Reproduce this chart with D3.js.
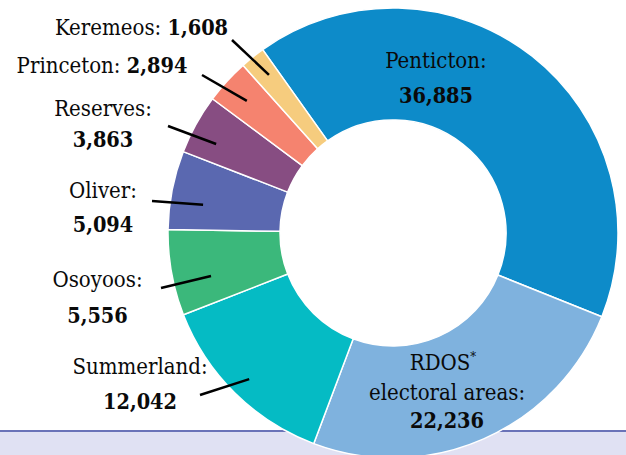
<!DOCTYPE html>
<html>
<head>
<meta charset="utf-8">
<script src="https://cdn.jsdelivr.net/npm/d3@7"></script>
<style>
  html, body { margin: 0; padding: 0; background: #fff; }
  svg { display: block; }
  .lbl { font-family: "DejaVu Serif Condensed", "DejaVu Serif", serif; font-stretch: condensed; font-size: 22px; fill: #0a0a0a; }
  .num { font-weight: bold; font-size: 21.5px; }
</style>
</head>
<body>
<svg id="chart" width="626" height="455"></svg>
<script>
// ---- data ----
const categories = ["Penticton", "RDOS electoral areas", "Summerland", "Osoyoos", "Oliver", "Reserves", "Princeton", "Keremeos"];
const values = [36885, 22236, 12042, 5556, 5094, 3863, 2894, 1608];
const colors = ["#0d8bc9", "#7fb2de", "#05bbc4", "#3bb87b", "#5a68b0", "#874d82", "#f5836f", "#f6cc7e"];

// ---- layout ----
const W = 626, H = 455;
const cx = 393, cy = 233, R = 225, r0 = 113;
const startDeg = -35.4;
const fmt = d3.format(",");

const svg = d3.select("#chart");

// bottom band
svg.append("rect").attr("x", 0).attr("y", 431).attr("width", W).attr("height", H - 431).attr("fill", "#e0e1f3");
svg.append("line").attr("x1", 0).attr("x2", W).attr("y1", 431).attr("y2", 431)
  .attr("stroke", "#6a73b8").attr("stroke-width", 2);

const data = categories.map((c, i) => ({ name: c, value: values[i], color: colors[i] }));
const start = startDeg * Math.PI / 180;
const pie = d3.pie().value(d => d.value).sort(null).startAngle(start).endAngle(start + 2 * Math.PI);
const arcs = pie(data);
const arc = d3.arc().innerRadius(r0).outerRadius(R);

const g = svg.append("g").attr("transform", `translate(${cx},${cy})`);
g.selectAll("path").data(arcs).join("path")
  .attr("d", arc)
  .attr("fill", d => d.data.color)
  .attr("stroke", "#fff")
  .attr("stroke-width", 1.5)
  .attr("stroke-linejoin", "round");

// label layout: label centre x, baselines, leader outer end, leader inner (radius, angle nudge in degrees)
const labelLayout = {
  "Penticton":  { x: 436, y: [68, 103] },
  "RDOS electoral areas": { x: 447, y: [370, 400, 428], rdos: true },
  "Summerland": { x: 140, y: [374, 409], lead: [200, 395], inner: [205, -0.1] },
  "Osoyoos":    { x: 97.5, y: [287, 323], lead: [161, 288], inner: [187, -3.1] },
  "Oliver":     { x: 103, y: [198, 232], lead: [152, 201], inner: [192, -2.6] },
  "Reserves":   { x: 103, y: [116, 147], lead: [168, 126], inner: [198, -2.2] },
  "Princeton":  { x: 102, y: [73], lead: [202, 75], inner: [197, -0.3], single: true },
  "Keremeos":   { x: 141.5, y: [35], lead: [232, 40], inner: [201, 0.5], single: true }
};

const lg = svg.append("g");
arcs.forEach(a => {
  const L = labelLayout[a.data.name];
  const name = a.data.name;
  const v = fmt(a.data.value);
  if (L.lead) {
    const mid = (a.startAngle + a.endAngle) / 2 + L.inner[1] * Math.PI / 180;
    const ri = L.inner[0];
    const ix = cx + ri * Math.sin(mid), iy = cy - ri * Math.cos(mid);
    lg.append("line").attr("x1", L.lead[0]).attr("y1", L.lead[1]).attr("x2", ix).attr("y2", iy)
      .attr("stroke", "#000").attr("stroke-width", 2.5);
  }
  if (L.single) {
    const t = lg.append("text").attr("class", "lbl").attr("x", L.x).attr("y", L.y[0]).attr("text-anchor", "middle");
    t.append("tspan").text(name + ": ");
    t.append("tspan").attr("class", "num").text(v);
  } else if (L.rdos) {
    const t1 = lg.append("text").attr("class", "lbl").attr("x", L.x - 4).attr("y", L.y[0]).attr("text-anchor", "middle");
    t1.append("tspan").text("RDOS");
    t1.append("tspan").attr("dy", -9).attr("font-size", 13).text("*");
    lg.append("text").attr("class", "lbl").attr("x", L.x).attr("y", L.y[1]).attr("text-anchor", "middle").text("electoral areas:");
    lg.append("text").attr("class", "lbl num").attr("x", L.x).attr("y", L.y[2]).attr("text-anchor", "middle").text(v);
  } else {
    lg.append("text").attr("class", "lbl").attr("x", L.x).attr("y", L.y[0]).attr("text-anchor", "middle").text(name + ":");
    lg.append("text").attr("class", "lbl num").attr("x", L.x).attr("y", L.y[1]).attr("text-anchor", "middle").text(v);
  }
});
</script>
</body>
</html>
